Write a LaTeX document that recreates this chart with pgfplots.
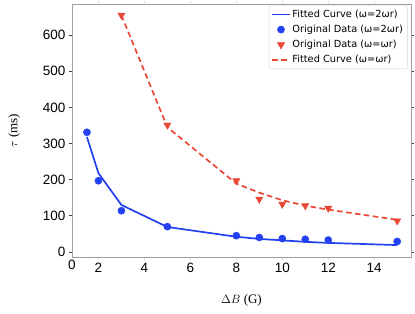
\documentclass[border=0pt]{standalone}
\usepackage{fontspec}
\setmainfont{Liberation Sans}
\newfontfamily\dejavu{DejaVu Sans}
\newfontfamily\serif{Liberation Serif}
\usepackage{pgfplots}
\pgfplotsset{compat=1.18}
\definecolor{cblue}{RGB}{35,65,240}
\definecolor{cred}{RGB}{232,72,52}
\begin{document}
\begin{tikzpicture}
\begin{axis}[
  scale only axis, width=339pt, height=253pt,
  xmin=0.85, xmax=15.6, ymin=-14, ymax=686,
  xtick={2,4,...,14},
  extra x ticks={0.85}, extra x tick labels={0},
  extra x tick style={major tick length=0pt},
  ytick={0,100,...,600},
  tick align=outside, major tick length=3pt,
  axis line style={gray!75, line width=0.8pt},
  y tick style={gray!50!black, line width=0.6pt},
  x tick style={gray!25, line width=0.6pt},
  /pgf/number format/assume math mode=true,
  tick label style={font=\fontsize{13.5}{13.5}\selectfont},
  xlabel={{\serif$\Delta B$ (G)}},
  ylabel={{\serif$\tau$ (ms)}},
  label style={font=\fontsize{13}{13}\selectfont},
  xlabel style={at={(axis description cs:0.5,-0.17)}, anchor=center},
  ylabel style={at={(axis description cs:-0.17,0.5)}, anchor=center},
  legend style={at={(rel axis cs:0.99,0.995)}, anchor=north east,
    font=\dejavu\fontsize{9.8}{11}\selectfont, draw=gray!35,
    rounded corners=2pt, row sep=2.2pt, inner sep=2.5pt},
  legend cell align=left,
]
\coordinate (sw) at (rel axis cs:0,0);
\coordinate (ne) at (rel axis cs:1,1);
\addplot[cblue, line width=1.7pt, mark=none] coordinates {
  (1.5,318) (2,218) (3,130) (5,69) (8,42) (9,36) (10,32) (11,28) (12,25) (15,19)};
\addlegendentry{Fitted Curve (ω=2ωr)}
\addplot[only marks, mark=*, mark size=3.6pt, cblue] coordinates {
  (1.5,331) (2,197) (3,114) (5,70) (8,45) (9,40) (10,37) (11,35) (12,33) (15,29)};
\addlegendentry{Original Data (ω=2ωr)}
\addplot[only marks, mark=triangle*, mark options={rotate=180}, mark size=4.2pt, cred] coordinates {
  (3,655) (5,351) (8,197) (9,146) (10,132) (11,128) (12,121) (15,86)};
\addlegendentry{Original Data (ω=ωr)}
\addplot[cred, line width=1.7pt, dash pattern=on 5.5pt off 3.5pt, mark=none] coordinates {
  (3,655) (5,345) (8,189) (9,164) (10,143) (11,128) (12,117) (15,89)};
\addlegendentry{Fitted Curve (ω=ωr)}
\end{axis}
\pgfresetboundingbox
\path[use as bounding box] ([shift={(-72pt,-57pt)}]sw) rectangle ([shift={(4pt,4pt)}]ne);
\end{tikzpicture}
\end{document}
